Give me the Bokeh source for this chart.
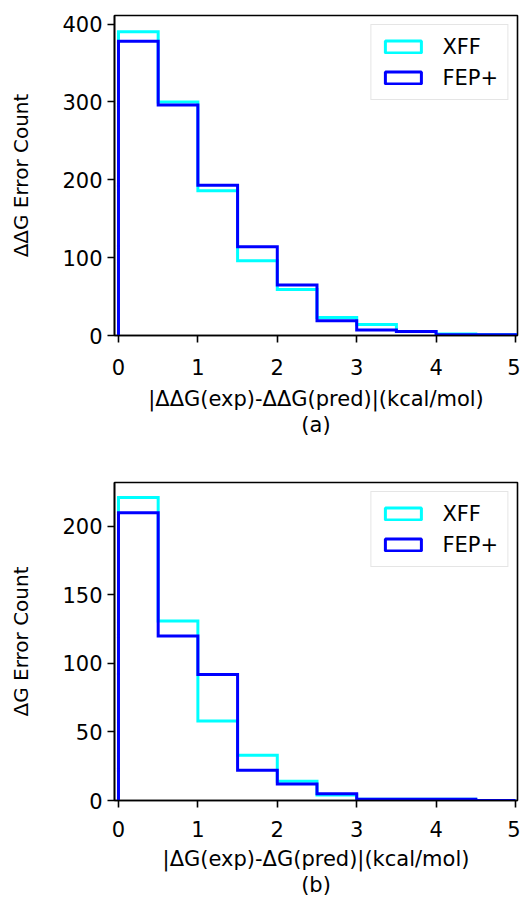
import numpy as np
from bokeh.plotting import figure
from bokeh.layouts import column
from bokeh.models import Range1d, FixedTicker, Legend, LegendItem
from bokeh.embed import file_html
from bokeh.resources import INLINE

# bin edges (kcal/mol)
bin_edges = [0.0, 0.5, 1.0, 1.5, 2.0, 2.5, 3.0, 3.5, 4.0, 4.5, 5.0]

# (a) |ddG(exp)-ddG(pred)| counts
ddg_xff = [390, 300, 186, 96, 59, 23, 14, 5, 2, 1]
ddg_fep = [378, 296, 193, 114, 65, 19, 7, 5, 1, 1]

# (b) |dG(exp)-dG(pred)| counts
dg_xff = [221, 131, 58, 33, 14, 4, 1, 1, 1, 0]
dg_fep = [210, 120, 92, 22, 12, 5, 1, 1, 1, 0]

x_ticks = [0, 1, 2, 3, 4, 5]
ticks_a = [0, 100, 200, 300, 400]
ticks_b = [0, 50, 100, 150, 200]

FONT = "DejaVu Sans"
CYAN = "#00ffff"
BLUE = "#0000ff"


def step_xy(edges, counts):
    e = np.asarray(edges, dtype=float)
    c = np.asarray(counts, dtype=float)
    xs = np.concatenate([[e[0]], np.repeat(e[1:-1], 2), [e[-1]]])
    ys = np.repeat(c, 2)
    xs = np.concatenate([[e[0]], xs, [e[-1]]])
    ys = np.concatenate([[0.0], ys, [0.0]])
    return xs, ys


def make_panel(xff, fep, yticks, ytop, ylabel, xlabel, height, top_border,
               bottom_border, tick_standoff, label_standoff):
    p = figure(width=520, height=height, output_backend="svg", toolbar_location=None,
               x_range=Range1d(-0.05, 5.025), y_range=Range1d(0, ytop),
               min_border_left=114, min_border_right=3,
               min_border_top=top_border, min_border_bottom=bottom_border)
    p.xgrid.visible = False
    p.ygrid.visible = False
    p.outline_line_color = "black"
    p.outline_line_width = 1.6
    p.background_fill_color = "white"
    p.border_fill_color = "white"

    for ax in (p.xaxis[0], p.yaxis[0]):
        ax.axis_line_color = "black"
        ax.axis_line_width = 1.6
        ax.major_tick_line_width = 1.6
        ax.major_tick_line_color = "black"
        ax.major_tick_out = 7
        ax.major_tick_in = 0
        ax.minor_tick_line_color = None
        ax.major_label_text_font = FONT
        ax.major_label_text_font_size = "21px"
        ax.major_label_text_color = "black"
        ax.axis_label_text_font = FONT
        ax.axis_label_text_font_style = "normal"
        ax.axis_label_text_color = "black"

    p.xaxis[0].ticker = FixedTicker(ticks=x_ticks)
    p.yaxis[0].ticker = FixedTicker(ticks=yticks)
    p.xaxis[0].major_label_standoff = tick_standoff
    p.yaxis[0].major_label_standoff = 5
    p.xaxis[0].axis_label = xlabel
    p.yaxis[0].axis_label = ylabel
    p.xaxis[0].axis_label_text_font_size = "21px"
    p.xaxis[0].axis_label_text_line_height = 1.1
    p.yaxis[0].axis_label_text_font_size = "20px"
    p.xaxis[0].axis_label_standoff = label_standoff
    p.yaxis[0].axis_label_standoff = 26

    xs, ys = step_xy(bin_edges, xff)
    p.line(xs, ys, line_color=CYAN, line_width=3, line_join="miter")
    xs, ys = step_xy(bin_edges, fep)
    p.line(xs, ys, line_color=BLUE, line_width=3, line_join="miter")

    r1 = p.rect(x=[np.nan], y=[np.nan], width=1, height=1, fill_color=None,
                line_color=CYAN, line_width=3)
    r2 = p.rect(x=[np.nan], y=[np.nan], width=1, height=1, fill_color=None,
                line_color=BLUE, line_width=3)
    legend = Legend(items=[LegendItem(label="XFF", renderers=[r1]),
                           LegendItem(label="FEP+", renderers=[r2])],
                    location="top_right")
    legend.label_text_font = FONT
    legend.label_text_font_size = "21px"
    legend.label_text_color = "black"
    legend.glyph_width = 45
    legend.glyph_height = 15
    legend.label_standoff = 17
    legend.label_height = 25
    legend.spacing = 6
    legend.padding = 9
    legend.margin = 9
    legend.border_line_color = "#cccccc"
    legend.border_line_width = 1.6
    legend.background_fill_color = "white"
    legend.background_fill_alpha = 0.8
    p.add_layout(legend, "center")
    return p


pa = make_panel(ddg_xff, ddg_fep, ticks_a, 411, "ΔΔG Error Count",
                "|ΔΔG(exp)-ΔΔG(pred)|(kcal/mol)\n(a)", 448, 15, 113, 16, 9)
pb = make_panel(dg_xff, dg_fep, ticks_b, 232, "ΔG Error Count",
                "|ΔG(exp)-ΔG(pred)|(kcal/mol)\n(b)", 451, 34, 99, 13, 7)

layout = column(pa, pb, spacing=0)
open("out.html", "w").write(file_html(layout, INLINE))
